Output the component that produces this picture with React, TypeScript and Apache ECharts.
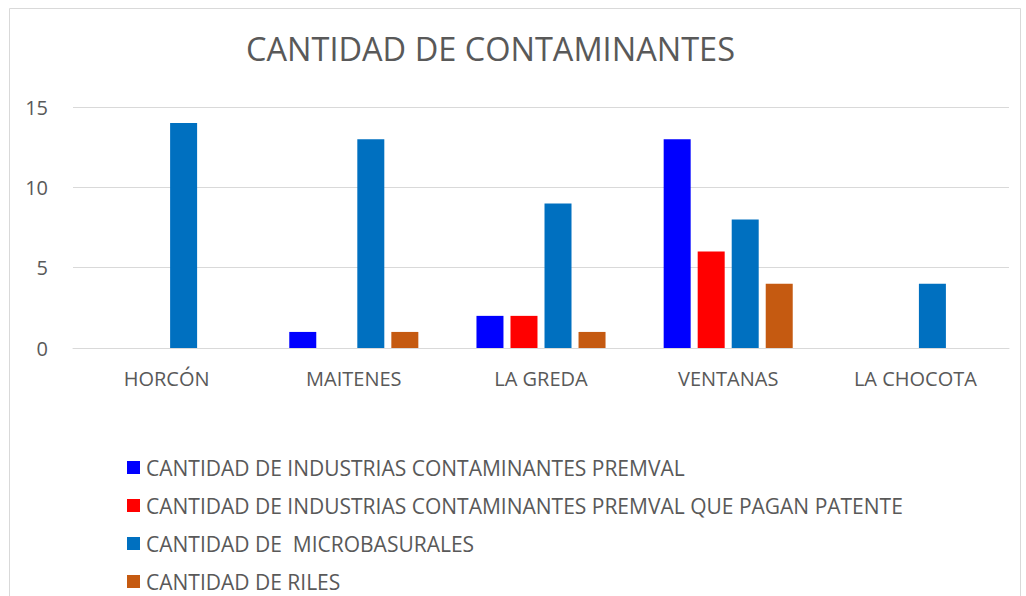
import React, { useEffect, useRef } from "react";
import * as echarts from "echarts";

const categories = ["HORCÓN", "MAITENES", "LA GREDA", "VENTANAS", "LA CHOCOTA"];
const seriesNames = [
  "CANTIDAD DE INDUSTRIAS CONTAMINANTES PREMVAL",
  "CANTIDAD DE INDUSTRIAS CONTAMINANTES PREMVAL QUE PAGAN PATENTE",
  "CANTIDAD DE  MICROBASURALES",
  "CANTIDAD DE RILES",
];
const premval = [null, 1, 2, 13, null];
const patente = [null, null, 2, 6, null];
const microbasurales = [14, 13, 9, 8, 4];
const riles = [null, 1, 1, 4, null];
const colors = ["#0000FF", "#FF0000", "#0070C0", "#C55A11"];
const yTicks = [0, 5, 10, 15];

const FONT = "'Open Sans', sans-serif";
const TXT = "#595959";

export default function App() {
  const ref = useRef<HTMLDivElement>(null);
  useEffect(() => {
    document.body.style.margin = "0";
    const chart = echarts.init(ref.current!, null, { renderer: "svg" });
    const values = [premval, patente, microbasurales, riles];
    chart.setOption({
      animation: false,
      textStyle: { fontFamily: FONT },
      title: {
        text: "CANTIDAD DE CONTAMINANTES",
        left: 241,
        top: 27,
        textStyle: { fontFamily: FONT, fontSize: 32.5, fontWeight: "normal", color: TXT },
      },
      graphic: [
        {
          type: "rect",
          shape: { x: 9.5, y: 8.5, width: 1011, height: 620 },
          style: { fill: "none", stroke: "#d9d9d9", lineWidth: 1 },
          silent: true,
        },
      ],
      grid: { left: 73, right: 17, top: 107, height: 241, containLabel: false },
      legend: {
        orient: "vertical",
        left: 122,
        top: 452,
        height: 300,
        itemWidth: 13,
        itemHeight: 13,
        itemGap: 17,
        icon: "rect",
        textStyle: { fontFamily: FONT, fontSize: 21, color: TXT, padding: [0, 0, 0, 1] },
        data: seriesNames,
      },
      xAxis: {
        type: "category",
        data: categories,
        axisLine: { show: true, lineStyle: { color: "#d9d9d9", width: 1 } },
        axisTick: { show: false },
        axisLabel: { fontFamily: FONT, fontSize: 20, color: TXT, margin: 20 },
      },
      yAxis: {
        type: "value",
        min: yTicks[0],
        max: yTicks[yTicks.length - 1],
        interval: 5,
        axisLine: { show: false },
        axisTick: { show: false },
        splitLine: { lineStyle: { color: "#d9d9d9", width: 1 } },
        axisLabel: { fontFamily: FONT, fontSize: 20, color: TXT, margin: 25 },
      },
      series: seriesNames.map((name, i) => ({
        name,
        type: "bar",
        data: values[i],
        barWidth: 27,
        barGap: "26%",
        itemStyle: { color: colors[i] },
      })),
    });
    return () => chart.dispose();
  }, []);
  return <div ref={ref} style={{ width: 1026, height: 596 }} />;
}
